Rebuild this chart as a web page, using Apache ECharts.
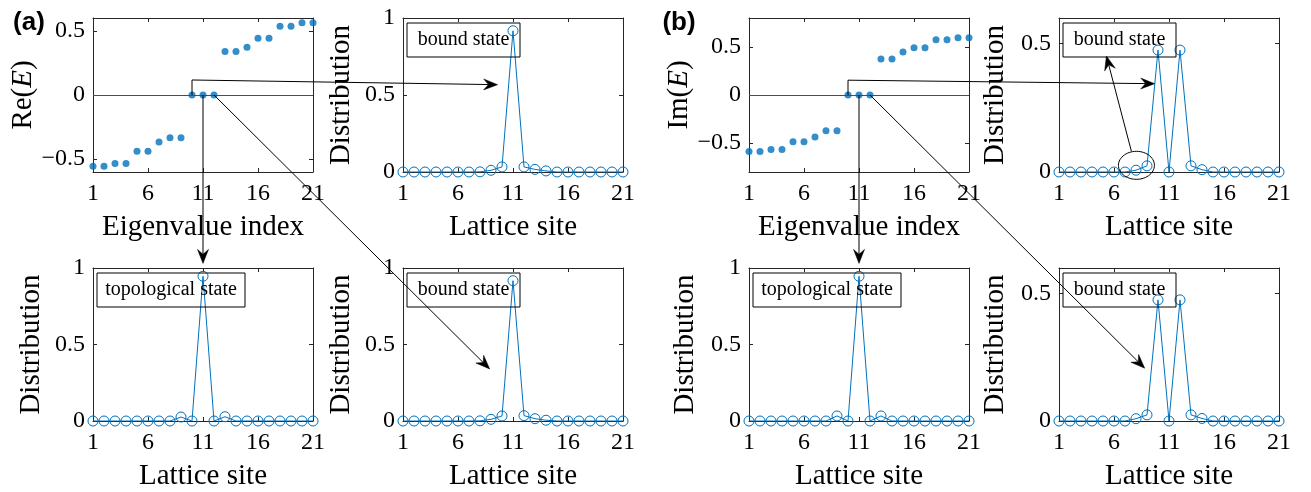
<!DOCTYPE html>
<html><head><meta charset="utf-8">
<script src="https://cdn.jsdelivr.net/npm/echarts@6/dist/echarts.min.js"></script>
<style>html,body{margin:0;padding:0;background:#fff}#c{width:1311px;height:492px}</style>
</head><body><div id="c"></div>
<script>
// ---------- data ----------
const siteIndex = [1,2,3,4,5,6,7,8,9,10,11,12,13,14,15,16,17,18,19,20,21];
const xTicks = [1, 6, 11, 16, 21];
const yTicksEig = [-0.5, 0, 0.5];
const yTicksDist = [0, 0.5, 1];
const yTicksDistB = [0, 0.5];

const reE = [-0.555,-0.555,-0.534,-0.534,-0.438,-0.438,-0.367,-0.333,-0.333,0,0,0,0.339,0.339,0.372,0.443,0.443,0.536,0.536,0.563,0.563];
const imE = [-0.587,-0.587,-0.566,-0.566,-0.486,-0.486,-0.437,-0.371,-0.371,0,0,0,0.374,0.374,0.448,0.49,0.49,0.573,0.573,0.594,0.594];

const distA_bound1 = [0,0,0,0,0,0,0,0.001,0.011,0.033,0.917,0.033,0.017,0.007,0,0,0,0,0,0,0];
const distA_topo   = [0,0,0,0,0,0,0,0,0.026,0,0.946,0,0.028,0,0,0,0,0,0,0,0];
const distA_bound2 = [0,0,0,0,0,0,0,0.001,0.011,0.033,0.917,0.035,0.015,0.005,0,0,0,0,0,0,0];
const distB_bound1 = [0,0,0,0,0,0,0,0.007,0.024,0.475,0,0.475,0.024,0.009,0,0,0,0,0,0,0];
const distB_topo   = [0,0,0,0,0,0,0,0,0.033,0,0.946,0,0.033,0,0,0,0,0,0,0,0];
const distB_bound2 = [0,0,0,0,0,0,0,0.009,0.024,0.475,0,0.475,0.024,0.01,0,0,0,0,0,0,0];

// ---------- layout ----------
const BLUE = '#0072BD', AX = '#262626';
const SERIF = '"Liberation Serif", "Times New Roman", serif';
const panels = [
  {left: 93,  top: 18,  kind: 'eig',  data: reE, yMin: -0.6, yMax: 0.6, yTicks: yTicksEig, yName: '{n|Re}{n|(}{i|E}{n|)}', xName: 'Eigenvalue index', yGap: 53},
  {left: 403, top: 18,  kind: 'dist', data: distA_bound1, yMin: 0, yMax: 1, yTicks: yTicksDist, yName: 'Distribution', xName: 'Lattice site', yGap: 47, box: 'bound state'},
  {left: 93,  top: 268, kind: 'dist', data: distA_topo, yMin: 0, yMax: 1, yTicks: yTicksDist, yName: 'Distribution', xName: 'Lattice site', yGap: 47, box: 'topological state'},
  {left: 403, top: 268, kind: 'dist', data: distA_bound2, yMin: 0, yMax: 1, yTicks: yTicksDist, yName: 'Distribution', xName: 'Lattice site', yGap: 47, box: 'bound state'},
  {left: 749, top: 18,  kind: 'eig',  data: imE, yMin: -0.8, yMax: 0.8, yTicks: yTicksEig, yName: '{n|Im}{n|(}{i|E}{n|)}', xName: 'Eigenvalue index', yGap: 47},
  {left: 1059,top: 18,  kind: 'dist', data: distB_bound1, yMin: 0, yMax: 0.6, yTicks: yTicksDistB, yName: 'Distribution', xName: 'Lattice site', yGap: 49, box: 'bound state'},
  {left: 749, top: 268, kind: 'dist', data: distB_topo, yMin: 0, yMax: 1, yTicks: yTicksDist, yName: 'Distribution', xName: 'Lattice site', yGap: 49, box: 'topological state'},
  {left: 1059,top: 268, kind: 'dist', data: distB_bound2, yMin: 0, yMax: 0.6, yTicks: yTicksDistB, yName: 'Distribution', xName: 'Lattice site', yGap: 49, box: 'bound state'}
];
const W = 220, H = 154;
const N = panels.length;

const lineStyle = {color: AX, width: 1};
const fmt = v => String(v).replace('-', '\u2212');
const grids = [], xAxes = [], yAxes = [], series = [];
panels.forEach((p, i) => {
  grids.push({left: p.left, top: p.top, width: W, height: H, containLabel: false});
  xAxes[i] = {
    gridIndex: i, type: 'value', min: 1, max: 21, position: 'bottom',
    axisLine: {show: true, onZero: false, lineStyle},
    axisTick: {show: true, inside: true, length: 4, customValues: xTicks, lineStyle},
    axisLabel: {customValues: xTicks, margin: 10, fontFamily: SERIF, fontSize: 24, color: '#000'},
    splitLine: {show: false},
    name: p.xName, nameLocation: 'middle', nameGap: 41,
    nameTextStyle: {fontFamily: SERIF, fontSize: 29, color: '#000'}
  };
  xAxes[N + i] = {
    gridIndex: i, type: 'value', min: 1, max: 21, position: 'top',
    axisLine: {show: true, onZero: false, lineStyle},
    axisTick: {show: true, inside: true, length: 4, customValues: xTicks, lineStyle},
    axisLabel: {show: false}, splitLine: {show: false}
  };
  yAxes[i] = {
    gridIndex: i, type: 'value', min: p.yMin, max: p.yMax, position: 'left',
    axisLine: {show: true, onZero: false, lineStyle},
    axisTick: {show: true, inside: true, length: 4, customValues: p.yTicks, lineStyle},
    axisLabel: {customValues: p.yTicks, margin: 8, fontFamily: SERIF, fontSize: 24, color: '#000', formatter: fmt},
    splitLine: {show: false},
    name: p.yName, nameLocation: 'middle', nameGap: p.yGap,
    nameTextStyle: {fontFamily: SERIF, fontSize: 29, color: '#000',
      rich: {n: {fontFamily: SERIF, fontSize: 29, color: '#000'},
             i: {fontFamily: SERIF, fontSize: 29, fontStyle: 'italic', color: '#000'}}}
  };
  yAxes[N + i] = {
    gridIndex: i, type: 'value', min: p.yMin, max: p.yMax, position: 'right',
    axisLine: {show: true, onZero: false, lineStyle},
    axisTick: {show: true, inside: true, length: 4, customValues: p.yTicks, lineStyle},
    axisLabel: {show: false}, splitLine: {show: false}
  };
  const pts = p.data.map((v, k) => [siteIndex[k], v]);
  if (p.kind === 'eig') {
    series.push({
      type: 'scatter', xAxisIndex: i, yAxisIndex: i, data: pts,
      symbol: 'circle', symbolSize: 7, itemStyle: {color: BLUE}, z: 3,
      markLine: {silent: true, symbol: ['none', 'none'], label: {show: false},
        lineStyle: {color: '#ff0000', width: 1, type: 'solid'}, data: [{yAxis: 0}]}
    });
  } else {
    series.push({
      type: 'line', xAxisIndex: i, yAxisIndex: i, data: pts,
      symbol: 'circle', symbolSize: 10, showSymbol: true,
      lineStyle: {color: BLUE, width: 1},
      itemStyle: {color: 'rgba(0,0,0,0)', borderColor: BLUE, borderWidth: 1}, z: 3
    });
  }
});

const chart = echarts.init(document.getElementById('c'), null, {renderer: 'canvas'});
chart.setOption({
  animation: false, backgroundColor: '#fff',
  grid: grids, xAxis: xAxes, yAxis: yAxes, series
});

// ---------- annotations ----------
const P = (gi, x, y) => chart.convertToPixel({xAxisIndex: gi, yAxisIndex: gi}, [x, y]);
const g = [];
function arrow(pts) {
  const tip = pts[pts.length - 1], from = pts[pts.length - 2];
  let dx = tip[0] - from[0], dy = tip[1] - from[1];
  const len = Math.hypot(dx, dy); dx /= len; dy /= len;
  const L = 14, Wd = 5.5;
  const bx = tip[0] - dx * L, by = tip[1] - dy * L;
  const nx = tip[0] - dx * L * 0.65, ny = tip[1] - dy * L * 0.65;
  const px = -dy, py = dx;
  const linePts = pts.slice(0, -1).concat([[nx, ny]]);
  g.push({type: 'polyline', z: 100, silent: true, shape: {points: linePts}, style: {stroke: '#000', lineWidth: 1, fill: null}});
  g.push({type: 'polygon', z: 100, silent: true,
    shape: {points: [tip, [bx + px * Wd, by + py * Wd], [nx, ny], [bx - px * Wd, by - py * Wd]]},
    style: {fill: '#000', stroke: '#000', lineWidth: 0.5}});
}
// panel (a)
arrow([P(0, 10, 0), P(0, 10, 0.117), P(1, 9.6, 0.567)]);
arrow([P(0, 11, 0), P(2, 11, 1.03)]);
arrow([P(0, 12, 0), P(3, 8.88, 0.34)]);
// panel (b)
arrow([P(4, 10, 0), P(4, 10, 0.154), P(5, 9.7, 0.344)]);
arrow([P(4, 11, 0), P(6, 11, 1.03)]);
arrow([P(4, 12, 0), P(7, 8.79, 0.207)]);
// ellipse + arrow in (b) top-right
(function () {
  const c = P(5, 8.04, 0.026), rx = 18, ry = 14, e = [];
  for (let k = 0; k < 60; k++) { const t = 2 * Math.PI * k / 60; e.push([c[0] + rx * Math.cos(t), c[1] + ry * Math.sin(t)]); }
  g.push({type: 'polygon', z: 100, silent: true, shape: {points: e}, style: {fill: null, stroke: '#000', lineWidth: 1}});
  arrow([P(5, 7.58, 0.081), P(5, 5.31, 0.452)]);
})();
// text boxes
panels.forEach((p, i) => {
  if (!p.box) return;
  const tl = P(i, 1, p.yMax);
  const bw = p.box === 'bound state' ? 113 : 148, bh = 34;
  const x0 = tl[0] + 4, y0 = tl[1] + 5;
  g.push({type: 'rect', z: 90, silent: true, shape: {x: x0, y: y0, width: bw, height: bh},
    style: {fill: null, stroke: '#000', lineWidth: 1}});
  g.push({type: 'text', z: 91, silent: true, x: x0 + bw / 2, y: y0 + bh / 2,
    style: {text: p.box, font: '20px ' + SERIF, fill: '#000', align: 'center', verticalAlign: 'middle'}});
});
// panel labels
g.push({type: 'text', z: 100, x: 29, y: 23, style: {text: '(a)', font: 'bold 26px "Liberation Sans", Arial, sans-serif', fill: '#000', align: 'center', verticalAlign: 'middle'}});
g.push({type: 'text', z: 100, x: 679, y: 23, style: {text: '(b)', font: 'bold 26px "Liberation Sans", Arial, sans-serif', fill: '#000', align: 'center', verticalAlign: 'middle'}});
chart.setOption({graphic: g});
</script>
</body></html>
